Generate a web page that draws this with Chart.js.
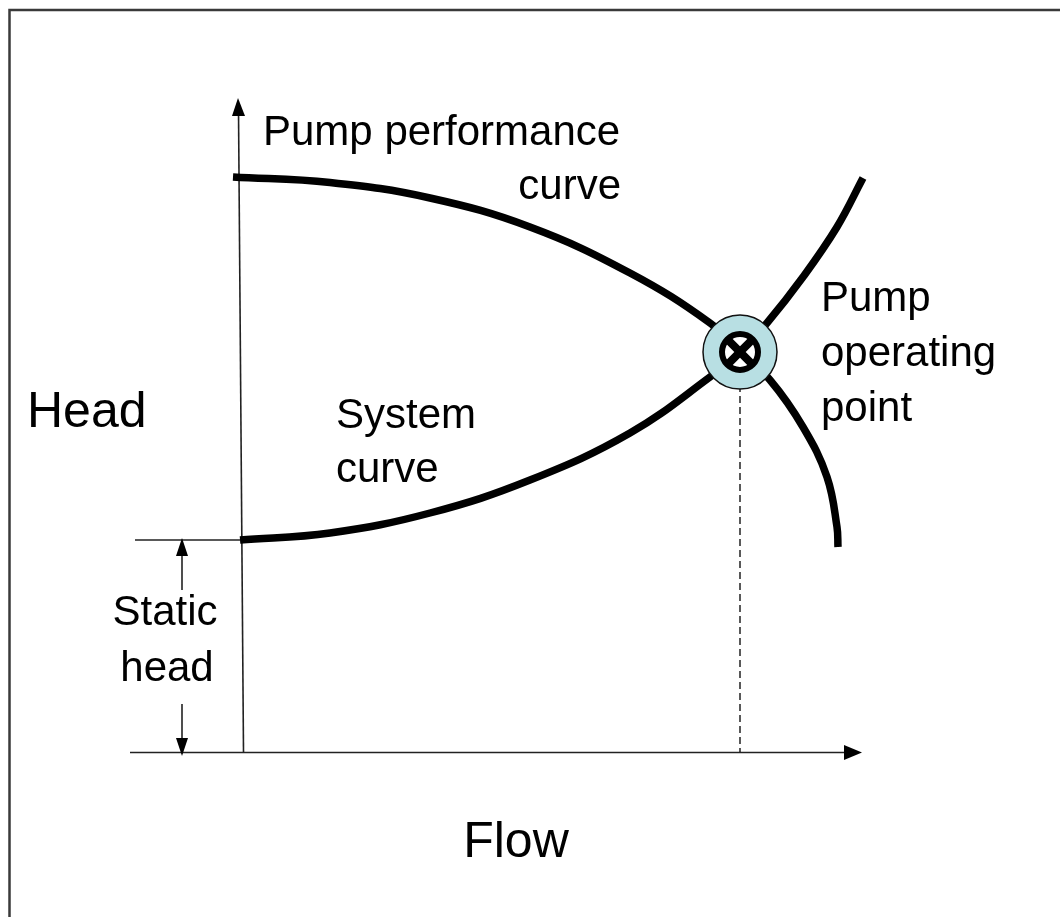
<!DOCTYPE html>
<html>
<head>
<meta charset="utf-8">
<script src="https://cdn.jsdelivr.net/npm/chart.js@4.4.1/dist/chart.umd.min.js"></script>
<style>
  html, body { margin: 0; padding: 0; background: #fff; }
  #wrap { width: 1060px; height: 917px; }
</style>
</head>
<body>
<div id="wrap"><canvas id="c" width="1060" height="917"></canvas></div>
<script>
// ---- data (Flow, Head in arbitrary units) ----
const pumpFlow   = [-1.4, 18, 38, 58, 78, 94, 100, 106, 112.6, 117.4, 119.4, 119.6];
const pumpHead   = [115, 113.9, 110.8, 105, 95.8, 85.8, 80, 74.4, 65, 55, 45, 41];
const systemFlow = [0, 18, 38, 58, 78, 94, 100, 105.4, 112.6, 119.4, 124.6];
const systemHead = [42.4, 43.8, 47.8, 54.4, 63.8, 75, 80, 85.8, 95, 105, 114.8];
const operatingFlow = 100;
const operatingHead = 80;
const staticHead = 42.4;
const axisTitles = { x: "Flow", y: "Head" };
const labels = {
  pump: ["Pump performance", "curve"],
  system: ["System", "curve"],
  operating: ["Pump", "operating", "point"],
  staticHead: ["Static", "head"]
};

const toPts = (xs, ys) => xs.map((x, i) => ({ x: x, y: ys[i] }));

const FONT = '"Liberation Sans", Arial, sans-serif';

const decor = {
  id: 'decor',
  beforeDatasetsDraw(chart) {
    const ctx = chart.ctx;
    const sx = chart.scales.x, sy = chart.scales.y;
    const X = v => sx.getPixelForValue(v), Y = v => sy.getPixelForValue(v);
    ctx.save();
    // frame
    ctx.strokeStyle = '#3a3a3a';
    ctx.lineWidth = 2.5;
    ctx.beginPath();
    ctx.moveTo(9.5, 917); ctx.lineTo(9.5, 10); ctx.lineTo(1060, 10);
    ctx.stroke();

    ctx.strokeStyle = '#222';
    ctx.fillStyle = '#000';
    ctx.lineWidth = 1.6;
    const x0 = X(0), y0 = Y(0);
    // x axis
    const xTip = X(124.4);
    ctx.beginPath(); ctx.moveTo(X(-22), y0 + 0.5); ctx.lineTo(xTip - 14, y0 + 0.5); ctx.stroke();
    ctx.beginPath(); ctx.moveTo(xTip, y0 + 0.5); ctx.lineTo(xTip - 18, y0 - 7); ctx.lineTo(xTip - 18, y0 + 8); ctx.closePath(); ctx.fill();
    // y axis (slightly slanted like the source)
    const yTip = Y(130.8);
    ctx.beginPath(); ctx.moveTo(x0 + 3.5, y0); ctx.lineTo(x0 - 1.5, yTip + 12); ctx.stroke();
    ctx.beginPath(); ctx.moveTo(x0 - 2, yTip); ctx.lineTo(x0 - 8, yTip + 18); ctx.lineTo(x0 + 5, yTip + 18); ctx.closePath(); ctx.fill();
    // static head level line
    const yS = Y(staticHead);
    ctx.beginPath(); ctx.moveTo(X(-21), yS); ctx.lineTo(x0, yS); ctx.stroke();
    // static head double arrow
    const ax = X(-11.6);
    ctx.beginPath(); ctx.moveTo(ax, yS + 12); ctx.lineTo(ax, yS + 50); ctx.stroke();
    ctx.beginPath(); ctx.moveTo(ax, y0 - 12); ctx.lineTo(ax, y0 - 48); ctx.stroke();
    ctx.beginPath(); ctx.moveTo(ax, yS - 2); ctx.lineTo(ax - 6, yS + 16); ctx.lineTo(ax + 6, yS + 16); ctx.closePath(); ctx.fill();
    ctx.beginPath(); ctx.moveTo(ax, y0 + 4); ctx.lineTo(ax - 6, y0 - 14); ctx.lineTo(ax + 6, y0 - 14); ctx.closePath(); ctx.fill();
    ctx.restore();
  },
  afterDraw(chart) {
    const ctx = chart.ctx;
    ctx.save();
    ctx.fillStyle = '#000';
    ctx.textBaseline = 'alphabetic';
    ctx.font = '50px ' + FONT;
    ctx.textAlign = 'left';
    ctx.fillText(axisTitles.y, 27, 427);
    ctx.textAlign = 'center';
    ctx.fillText(axisTitles.x, 516, 857);

    ctx.font = '42px ' + FONT;
    ctx.textAlign = 'left';
    ctx.fillText(labels.pump[0], 263, 145);
    ctx.textAlign = 'right';
    ctx.fillText(labels.pump[1], 621, 199);
    ctx.textAlign = 'left';
    ctx.fillText(labels.system[0], 336, 428);
    ctx.fillText(labels.system[1], 336, 482);
    labels.operating.forEach((t, i) => ctx.fillText(t, 821, 311 + i * 55));
    ctx.textAlign = 'center';
    ctx.fillText(labels.staticHead[0], 165, 625);
    ctx.fillText(labels.staticHead[1], 167, 681);
    ctx.restore();
  }
};

new Chart(document.getElementById('c'), {
  type: 'scatter',
  data: {
    datasets: [
      { data: [{ x: operatingFlow, y: operatingHead }], order: 0, pointStyle: 'crossRot',
        pointRadius: 16, borderColor: '#000', borderWidth: 8, backgroundColor: '#000' },
      { data: [{ x: operatingFlow, y: operatingHead }], order: 1, pointStyle: 'circle',
        pointRadius: 18, borderColor: '#000', borderWidth: 6, backgroundColor: '#fff' },
      { data: [{ x: operatingFlow, y: operatingHead }], order: 2, pointStyle: 'circle',
        pointRadius: 37, borderColor: '#111', borderWidth: 1.5, backgroundColor: '#b8dfe3' },
      { data: toPts(pumpFlow, pumpHead), order: 3, showLine: true, borderColor: '#000',
        borderWidth: 7.5, pointRadius: 0, tension: 0.4 },
      { data: toPts(systemFlow, systemHead), order: 3, showLine: true, borderColor: '#000',
        borderWidth: 7.5, pointRadius: 0, tension: 0.4 },
      { data: [{ x: operatingFlow, y: operatingHead }, { x: operatingFlow, y: 0 }], order: 4,
        showLine: true, borderColor: '#000', borderWidth: 1.3, borderDash: [7, 4], pointRadius: 0 }
    ]
  },
  options: {
    responsive: false,
    animation: false,
    events: [],
    layout: { padding: 0, autoPadding: false },
    plugins: { legend: { display: false }, tooltip: { enabled: false } },
    scales: {
      x: { type: 'linear', display: false, min: -48, max: 164 },
      y: { type: 'linear', display: false, min: -33, max: 150.4 }
    }
  },
  plugins: [decor]
});
</script>
</body>
</html>
